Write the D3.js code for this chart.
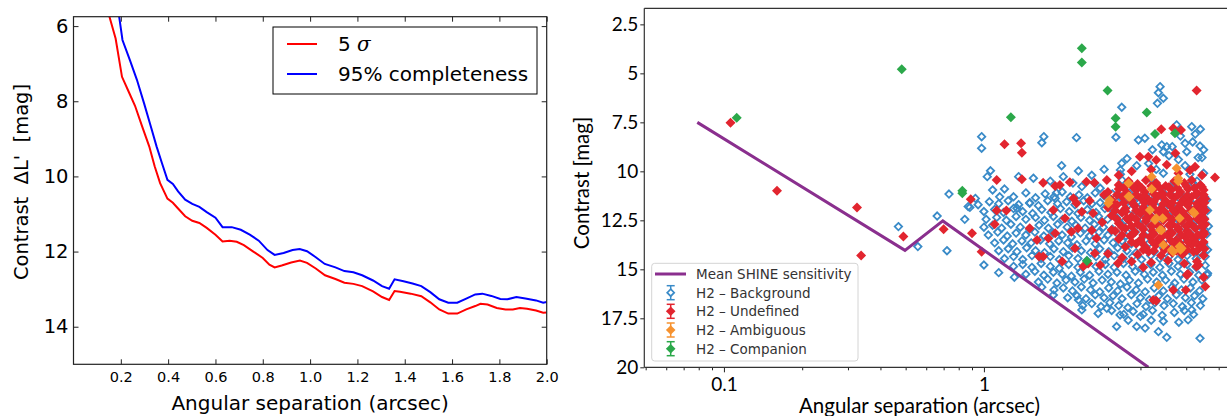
<!DOCTYPE html>
<html><head><meta charset="utf-8">
<script src="https://cdn.jsdelivr.net/npm/d3@7"></script>
<style>
html,body{margin:0;padding:0;background:#fff;}
svg{display:block;}
text{white-space:pre;}
</style>
</head><body>
<svg id="c" width="1227" height="416"></svg>
<script>
// ---------------- LEFT PANEL DATA ----------------
const sigma5 = [[0.152,5.75],[0.178,6.33],[0.205,7.35],[0.23,7.7],[0.26,8.12],[0.29,8.67],[0.32,9.2],[0.343,9.73],[0.366,10.18],[0.397,10.59],[0.42,10.7],[0.44,10.84],[0.472,11.06],[0.502,11.18],[0.532,11.24],[0.563,11.37],[0.6,11.55],[0.63,11.73],[0.66,11.71],[0.69,11.74],[0.72,11.83],[0.76,12.0],[0.8,12.17],[0.828,12.35],[0.85,12.42],[0.88,12.37],[0.92,12.29],[0.957,12.24],[0.987,12.3],[1.024,12.45],[1.063,12.63],[1.107,12.73],[1.145,12.83],[1.183,12.86],[1.22,12.92],[1.266,13.06],[1.304,13.21],[1.334,13.29],[1.357,13.05],[1.38,13.07],[1.425,13.12],[1.47,13.19],[1.508,13.35],[1.546,13.54],[1.584,13.65],[1.622,13.65],[1.66,13.54],[1.698,13.45],[1.72,13.39],[1.75,13.41],[1.789,13.5],[1.826,13.54],[1.857,13.54],[1.887,13.5],[1.917,13.52],[1.955,13.57],[1.985,13.63],[2.0,13.62]];
const compl95 = [[0.193,5.75],[0.207,6.37],[0.238,6.9],[0.268,7.43],[0.298,8.05],[0.329,8.72],[0.351,9.2],[0.374,9.65],[0.397,10.09],[0.42,10.2],[0.442,10.4],[0.472,10.62],[0.502,10.73],[0.532,10.81],[0.563,10.95],[0.6,11.1],[0.63,11.35],[0.669,11.35],[0.707,11.42],[0.745,11.55],[0.783,11.71],[0.82,11.96],[0.85,12.09],[0.888,12.04],[0.926,11.96],[0.956,11.93],[0.987,11.99],[1.024,12.15],[1.062,12.33],[1.107,12.42],[1.145,12.52],[1.183,12.55],[1.22,12.63],[1.266,12.77],[1.304,12.92],[1.334,12.99],[1.357,12.74],[1.395,12.79],[1.433,12.85],[1.47,12.92],[1.508,13.08],[1.546,13.27],[1.584,13.36],[1.622,13.36],[1.66,13.25],[1.698,13.14],[1.728,13.12],[1.766,13.18],[1.804,13.26],[1.834,13.27],[1.872,13.21],[1.91,13.25],[1.955,13.3],[1.985,13.36],[2.0,13.34]];
const leftXTicks = [0.2,0.4,0.6,0.8,1.0,1.2,1.4,1.6,1.8,2.0];
const leftYTicks = [6,8,10,12,14];
const leftLegend = ["5 σ","95% completeness"];

// ---------------- RIGHT PANEL DATA ----------------
const sensitivity = [[0.079,7.5],[0.497,14.03],[0.695,12.53],[4.29,20]];
const rightYTicks = [2.5,5,7.5,10,12.5,15,17.5,20];
const rightXTicks = [0.1,1];
const rightMinorTicks = [0.05,0.06,0.07,0.08,0.09,0.2,0.3,0.4,0.5,0.6,0.7,0.8,0.9,2,3,4,5,6,7,8,9];
const rightLegend = ["Mean SHINE sensitivity","H2 – Background","H2 – Undefined","H2 – Ambiguous","H2 – Companion"];

const background = [
[0.469,12.82],[0.557,13.84],[0.661,12.28],[0.721,14.05],[0.734,11.16],[0.844,12.45],[0.883,11.84],[0.927,11.38],[0.98,8.23],[0.98,8.82],[1.0,14.78],[1.03,10.27],[1.06,9.97],[1.08,10.95],[1.14,15.17],[1.31,15.4],[1.36,10.27],[1.67,8.54],[1.70,8.23],[1.99,9.71],[2.27,8.28],[2.31,9.98],[3.22,8.26],[3.39,6.73],[4.76,5.68],[4.69,5.99],[4.9,6.27],[4.65,6.53],[5.51,7.63],[6.3,7.72],[3.93,8.4],[4.16,8.31],[4.83,8.65],[5.05,8.74],[5.3,8.74],[5.94,8.57],[6.35,8.5],[6.78,8.71],[6.67,9.3],[6.03,9.0],[4.9,9.0],[5.15,9.2],[3.39,9.59],[3.35,9.93],[3.87,9.71],[5.94,9.71],[6.2,10.15],[6.35,10.58],[0.87,11.8],[1.34,11.88],[1.5,11.63],[1.88,11.38],[1.9,11.1],[2.02,10.27],[2.38,10.78],[2.67,10.61],[2.8,10.86],[3.35,10.15],[3.4,10.45],[1.67,15.91],[1.85,16.31],[2.31,16.56],[2.38,17.07],[2.97,16.99],[3.34,17.33],[4.0,17.4],[6.3,17.07],[7.23,15.29],
[4.4,10.4],[4.9,10.1],[5.4,10.6],[6.6,10.5],[7.0,10.1],[4.3,9.6],[4.6,9.9],[5.6,9.4],[6.9,9.3],[7.0,8.9],[6.5,8.1],[6.8,7.85],[5.7,8.2],[4.45,8.9],[3.55,9.35],[2.9,9.9],[2.6,10.2],[1.8,10.5],[1.55,10.35],[2.2,10.6],[1.2,10.9],[1.15,11.3],
[1.3,11.3],[1.45,11.1],[1.58,11.35],[1.72,11.15],[1.86,11.3],[2.0,11.05],[2.15,11.3],[2.32,11.2],[2.5,11.35],[2.68,11.1],[2.9,11.25],[3.12,11.15],[3.35,11.3],[3.62,11.1],[3.9,11.3],[4.2,11.2],[4.55,11.35],[4.9,11.1],[5.3,11.25],[5.7,11.15],[6.15,11.3],[6.6,11.2],[7.05,11.3],
[0.95,11.7],[1.05,11.55],[1.14,11.65],[1.24,11.5],[1.36,11.7],[1.5,11.6],[1.62,11.75],[1.76,11.5],[1.92,11.65],[2.08,11.55],[2.24,11.7],[2.42,11.5],[2.6,11.65],[2.8,11.6],[3.02,11.7],[3.25,11.55],[3.5,11.65],[3.78,11.5],[4.05,11.7],[4.38,11.6],[4.72,11.55],[5.1,11.7],[5.5,11.6],[5.92,11.5],[6.4,11.7],[6.9,11.6],[7.2,11.45],
[1.0,12.05],[1.1,11.95],[1.19,12.1],[1.3,11.9],[1.41,12.05],[1.54,12.15],[1.67,11.95],[1.81,12.1],[1.97,11.9],[2.13,12.05],[2.3,12.15],[2.5,11.95],[2.7,12.1],[2.92,11.9],[3.15,12.05],[3.4,12.1],[3.68,11.95],[3.96,12.1],[4.28,11.9],[4.62,12.05],[5.0,12.15],[5.4,11.95],[5.82,12.1],[6.28,11.95],[6.75,12.1],[7.25,12.0],
[1.02,12.45],[1.12,12.35],[1.22,12.5],[1.33,12.3],[1.45,12.45],[1.58,12.35],[1.71,12.5],[1.85,12.3],[2.01,12.45],[2.18,12.55],[2.36,12.35],[2.55,12.5],[2.76,12.3],[2.99,12.45],[3.23,12.35],[3.5,12.5],[3.78,12.3],[4.09,12.45],[4.42,12.35],[4.8,12.5],[5.18,12.3],[5.6,12.45],[6.06,12.35],[6.55,12.5],[7.05,12.4],
[1.0,12.85],[1.08,12.75],[1.17,12.9],[1.27,12.7],[1.38,12.85],[1.5,12.95],[1.63,12.75],[1.77,12.9],[1.92,12.7],[2.09,12.85],[2.26,12.75],[2.45,12.9],[2.66,12.7],[2.88,12.85],[3.12,12.95],[3.38,12.75],[3.66,12.9],[3.96,12.7],[4.3,12.85],[4.65,12.75],[5.05,12.9],[5.45,12.7],[5.9,12.85],[6.38,12.75],[6.9,12.9],[7.3,12.8],
[1.04,13.25],[1.13,13.1],[1.23,13.3],[1.33,13.15],[1.45,13.25],[1.57,13.1],[1.7,13.3],[1.85,13.15],[2.0,13.25],[2.17,13.35],[2.35,13.15],[2.55,13.3],[2.77,13.1],[3.0,13.25],[3.25,13.15],[3.52,13.3],[3.82,13.1],[4.14,13.25],[4.48,13.15],[4.86,13.3],[5.26,13.1],[5.7,13.25],[6.18,13.15],[6.7,13.3],[7.2,13.2],
[1.1,13.65],[1.19,13.5],[1.29,13.7],[1.4,13.55],[1.52,13.65],[1.65,13.5],[1.79,13.7],[1.94,13.55],[2.1,13.65],[2.28,13.75],[2.47,13.55],[2.68,13.7],[2.9,13.5],[3.14,13.65],[3.4,13.55],[3.69,13.7],[4.0,13.5],[4.33,13.65],[4.7,13.55],[5.08,13.7],[5.5,13.5],[5.96,13.65],[6.46,13.55],[7.0,13.7],
[1.14,14.05],[1.24,13.95],[1.34,14.1],[1.46,13.9],[1.58,14.05],[1.71,14.15],[1.86,13.95],[2.02,14.1],[2.19,13.9],[2.37,14.05],[2.57,14.15],[2.79,13.95],[3.02,14.1],[3.27,13.9],[3.55,14.05],[3.85,14.15],[4.17,13.95],[4.52,14.1],[4.9,13.9],[5.3,14.05],[5.75,14.15],[6.22,13.95],[6.75,14.1],[7.25,14.0],
[1.2,14.45],[1.3,14.35],[1.41,14.5],[1.53,14.3],[1.66,14.45],[1.8,14.35],[1.95,14.5],[2.12,14.3],[2.3,14.45],[2.49,14.55],[2.7,14.35],[2.93,14.5],[3.17,14.3],[3.44,14.45],[3.73,14.35],[4.04,14.5],[4.38,14.3],[4.75,14.45],[5.15,14.35],[5.58,14.5],[6.05,14.3],[6.55,14.45],[7.1,14.35],
[1.3,14.85],[1.41,14.75],[1.53,14.9],[1.66,14.7],[1.8,14.85],[1.95,14.95],[2.12,14.75],[2.3,14.9],[2.49,14.7],[2.7,14.85],[2.93,14.75],[3.17,14.9],[3.44,14.7],[3.73,14.85],[4.04,14.95],[4.38,14.75],[4.75,14.9],[5.15,14.7],[5.58,14.85],[6.05,14.75],[6.55,14.9],[7.1,14.8],
[1.45,15.25],[1.57,15.1],[1.7,15.3],[1.85,15.15],[2.0,15.25],[2.17,15.35],[2.35,15.15],[2.55,15.3],[2.77,15.1],[3.0,15.25],[3.25,15.15],[3.52,15.3],[3.82,15.1],[4.14,15.25],[4.48,15.15],[4.86,15.3],[5.26,15.1],[5.7,15.25],[6.18,15.15],[6.7,15.3],[7.25,15.2],
[1.62,15.65],[1.76,15.5],[1.91,15.7],[2.07,15.55],[2.24,15.65],[2.43,15.5],[2.63,15.7],[2.85,15.55],[3.09,15.65],[3.35,15.75],[3.63,15.55],[3.93,15.7],[4.26,15.5],[4.62,15.65],[5.0,15.55],[5.42,15.7],[5.88,15.5],[6.37,15.65],[6.9,15.55],
[1.86,16.05],[2.02,15.95],[2.19,16.1],[2.37,15.9],[2.57,16.05],[2.79,16.15],[3.02,15.95],[3.27,16.1],[3.55,15.9],[3.85,16.05],[4.17,16.15],[4.52,15.95],[4.9,16.1],[5.3,15.9],[5.75,16.05],[6.22,15.95],[6.75,16.1],
[2.1,16.45],[2.28,16.35],[2.47,16.5],[2.68,16.3],[2.9,16.45],[3.14,16.35],[3.4,16.5],[3.69,16.3],[4.0,16.45],[4.33,16.55],[4.7,16.35],[5.08,16.5],[5.5,16.3],[5.96,16.45],[6.46,16.35],[6.95,16.5],
[2.4,16.85],[2.6,16.75],[2.82,16.9],[3.05,16.7],[3.3,16.85],[3.58,16.95],[3.88,16.75],[4.2,16.9],[4.55,16.7],[4.93,16.85],[5.35,16.75],[5.8,16.9],[6.28,16.7],[6.8,16.85],
[2.75,17.25],[3.1,17.1],[3.45,17.3],[3.75,17.15],[4.1,17.3],[4.45,17.1],[4.85,17.35],[5.4,17.2],[5.9,17.1],[6.4,17.3],
[3.24,17.92],[3.59,17.6],[3.87,17.92],[4.17,18.0],[4.69,18.18],[5.05,18.47],[6.78,18.52],[6.1,17.58],[5.62,17.7],[4.9,17.65],[4.4,17.6]
];
const undefinedPts = [
[0.106,7.52],[0.16,10.99],[0.325,11.84],[0.337,14.3],[0.49,13.33],[0.70,12.96],[0.89,11.43],[0.90,13.16],[0.98,14.1],[1.10,12.7],[1.12,10.44],[1.12,12.0],[1.22,12.0],[1.2,8.62],[1.39,8.57],[1.40,9.05],[1.40,10.4],[1.69,10.58],[1.88,10.75],[1.96,10.7],[2.14,10.56],[2.21,11.37],[2.27,11.63],[2.48,10.53],[2.66,10.58],[2.97,10.44],[1.85,11.97],[2.38,12.06],[2.63,12.14],[2.17,13.08],[2.3,12.9],[1.77,13.41],[2.24,13.93],[2.71,13.41],[2.67,14.18],[2.41,14.86],[2.8,14.78],[3.1,12.99],[3.0,14.2],[1.69,14.35],[3.28,14.69],[4.48,16.56],[4.6,16.6],[5.35,16.05],[6.03,15.29],[6.57,14.86],[7.1,15.88],[7.0,15.4],[1.6,13.5],[1.63,14.35],[1.88,13.16],[2.52,14.7],[5.98,16.05],[6.1,15.24],[6.7,14.78],[2.05,12.4],[2.55,11.5],[2.85,12.6],[2.9,11.2],[2.6,13.0],[3.4,14.4],[3.7,14.6],[4.1,14.9],[2.0,14.6],[1.5,12.9],
[3.98,9.25],[4.29,9.25],[4.6,9.42],[5.05,9.67],[6.49,9.76],[5.45,9.08],[7.74,10.32],[4.81,7.85],[5.73,7.89],[5.35,7.8],[6.58,5.88],[3.7,10.0],[4.4,9.9],[5.6,10.1],[6.2,9.95],[6.9,10.2],[3.3,10.2],
[3.3,10.7],[3.6,10.5],[3.9,10.65],[4.2,10.45],[4.6,10.6],[5.0,10.75],[5.4,10.5],[5.9,10.6],[6.3,10.45],[6.8,10.7],
[3.0,11.05],[3.3,10.9],[3.55,11.1],[3.85,10.95],[4.15,11.05],[4.5,10.9],[4.85,11.1],[5.25,10.95],[5.7,11.05],[6.1,10.9],[6.6,11.1],[7.0,10.95],
[3.1,11.45],[3.4,11.3],[3.7,11.5],[4.0,11.35],[4.3,11.45],[4.65,11.3],[5.0,11.5],[5.4,11.35],[5.85,11.45],[6.3,11.3],[6.8,11.5],[7.1,11.4],
[3.0,11.85],[3.25,11.7],[3.5,11.9],[3.8,11.75],[4.1,11.85],[4.45,11.7],[4.8,11.9],[5.2,11.75],[5.6,11.85],[6.05,11.7],[6.5,11.9],[6.95,11.8],
[3.1,12.25],[3.4,12.1],[3.7,12.3],[4.0,12.15],[4.35,12.25],[4.7,12.1],[5.1,12.3],[5.5,12.15],[5.95,12.25],[6.4,12.1],[6.9,12.3],
[3.3,12.65],[3.6,12.5],[3.9,12.7],[4.2,12.55],[4.55,12.65],[4.9,12.5],[5.3,12.7],[5.75,12.55],[6.2,12.65],[6.7,12.5],[7.1,12.7],
[3.2,13.05],[3.5,12.9],[3.8,13.1],[4.1,12.95],[4.45,13.05],[4.8,12.9],[5.2,13.1],[5.6,12.95],[6.05,13.05],[6.5,12.9],[7.0,13.1],
[3.3,13.45],[3.65,13.3],[4.0,13.5],[4.35,13.35],[4.7,13.45],[5.1,13.3],[5.5,13.5],[5.95,13.35],[6.4,13.45],[6.9,13.3],
[3.5,13.85],[3.85,13.7],[4.2,13.9],[4.6,13.75],[5.0,13.85],[5.4,13.7],[5.85,13.9],[6.3,13.75],[6.8,13.85],
[3.9,14.25],[4.3,14.1],[4.8,14.3],[5.3,14.15],[5.8,14.25],[6.4,14.1],[7.0,14.3],
[4.4,14.65],[5.1,14.55],[5.9,14.7],[6.6,14.6],
[3.45,10.85],[3.75,10.8],[4.05,10.85],[4.4,10.75],[4.75,10.85],[5.15,10.8],[5.55,10.85],[6.0,10.75],[6.45,10.85],[6.9,10.8],
[3.25,11.2],[3.55,11.25],[3.85,11.2],[4.15,11.25],[4.5,11.15],[4.85,11.25],[5.2,11.2],[5.6,11.2],[6.05,11.25],[6.55,11.2],[7.0,11.2],
[3.15,11.65],[3.45,11.6],[3.75,11.65],[4.15,11.6],[4.5,11.55],[4.9,11.65],[5.3,11.6],[5.7,11.65],[6.15,11.6],[6.6,11.65],[7.05,11.6],
[3.2,12.0],[3.5,12.05],[3.85,12.0],[4.2,12.05],[4.55,11.95],[4.95,12.05],[5.35,12.0],[5.8,12.05],[6.25,12.0],[6.7,12.05],[7.1,12.0],
[3.25,12.45],[3.55,12.4],[3.85,12.45],[4.2,12.4],[4.55,12.45],[4.9,12.35],[5.3,12.45],[5.7,12.4],[6.15,12.45],[6.6,12.4],[7.05,12.45],
[3.4,12.85],[3.7,12.8],[4.05,12.85],[4.4,12.8],[4.75,12.85],[5.15,12.75],[5.55,12.85],[6.0,12.8],[6.45,12.85],[6.9,12.8],
[3.4,13.25],[3.75,13.2],[4.1,13.25],[4.5,13.2],[4.9,13.25],[5.3,13.15],[5.75,13.25],[6.2,13.2],[6.65,13.25],[7.05,13.2],
[3.7,13.6],[4.05,13.65],[4.45,13.6],[4.85,13.65],[5.25,13.55],[5.65,13.65],[6.1,13.6],[6.55,13.65],[7.0,13.6],
[4.1,14.0],[4.5,14.05],[4.95,14.0],[5.5,14.05],[6.05,14.0],[6.6,14.05],[7.05,13.95]
];
const ambiguous = [[3.04,11.46],[3.01,11.63],[3.6,10.61],[3.6,11.29],[4.42,10.27],[4.42,10.9],[5.51,9.84],[5.59,10.35],[5.59,10.5],[4.35,11.97],[4.55,12.48],[4.6,12.4],[4.76,12.99],[5.66,12.4],[6.38,12.06],[5.28,14.01],[5.66,13.84],[5.7,14.0],[4.9,13.76],[4.69,15.8],[4.87,12.4],[4.82,13.0],[6.45,12.14],[5.35,14.1],[5.76,13.93],[3.63,11.3]];
const companion = [[0.112,7.26],[0.483,4.79],[2.38,3.72],[2.38,4.44],[1.27,7.24],[2.99,5.88],[3.21,7.29],[3.21,7.72],[4.23,7.0],[4.55,8.09],[5.43,8.06],[0.826,10.99],[0.826,11.12],[2.49,14.57]];

// ---------------- DRAW ----------------
const svg = d3.select("#c");
const DJ = "'DejaVu Sans', sans-serif";
const LT = "Lato, 'Open Sans', sans-serif";

// LEFT PANEL
const L = {x0:73.5, x1:546.7, y0:16.7, y1:364.3};
const xL = d3.scaleLinear().domain([0,2]).range([L.x0,L.x1]);
const yL = d3.scaleLinear().domain([5.75,15]).range([L.y0,L.y1]);
const gL = svg.append("g");
svg.append("clipPath").attr("id","clipL").append("rect").attr("x",L.x0).attr("y",L.y0).attr("width",L.x1-L.x0).attr("height",L.y1-L.y0);

const lineL = d3.line().x(d=>xL(d[0])).y(d=>yL(d[1]));
gL.append("path").datum(sigma5).attr("d",lineL).attr("clip-path","url(#clipL)").attr("fill","none").attr("stroke","#ff0000").attr("stroke-width",2);
gL.append("path").datum(compl95).attr("d",lineL).attr("clip-path","url(#clipL)").attr("fill","none").attr("stroke","#0000ff").attr("stroke-width",2);

function styleAxis(g, font, size, col){
  g.select(".domain").remove();
  g.selectAll(".tick line").attr("stroke","#222").attr("stroke-width",1);
  g.selectAll(".tick text").attr("font-family",font).attr("font-size",size).attr("fill",col||"#000");
}
const axB = gL.append("g").attr("transform",`translate(0,${L.y1})`)
  .call(d3.axisBottom(xL).tickValues(leftXTicks).tickSize(-5).tickPadding(7).tickFormat(d3.format(".1f")));
styleAxis(axB, DJ, 14.5);
const axT = gL.append("g").attr("transform",`translate(0,${L.y0})`)
  .call(d3.axisTop(xL).tickValues(leftXTicks).tickSize(-5).tickFormat(""));
styleAxis(axT, DJ, 1);
const axLf = gL.append("g").attr("transform",`translate(${L.x0},0)`)
  .call(d3.axisLeft(yL).tickValues(leftYTicks).tickSize(-5).tickPadding(5));
styleAxis(axLf, DJ, 19.5);
const axRt = gL.append("g").attr("transform",`translate(${L.x1},0)`)
  .call(d3.axisRight(yL).tickValues(leftYTicks).tickSize(-5).tickFormat(""));
styleAxis(axRt, DJ, 1);
gL.append("rect").attr("x",L.x0).attr("y",L.y0).attr("width",L.x1-L.x0).attr("height",L.y1-L.y0)
  .attr("fill","none").attr("stroke","#222").attr("stroke-width",1.2);

// left legend
gL.append("rect").attr("x",273).attr("y",27).attr("width",264).attr("height",67).attr("fill","#fff").attr("stroke","#000").attr("stroke-width",1);
[["#ff0000",44],["#0000ff",74]].forEach((c,i)=>{
  gL.append("line").attr("x1",287).attr("x2",317).attr("y1",c[1]).attr("y2",c[1]).attr("stroke",c[0]).attr("stroke-width",2);
});
const lt1 = gL.append("text").attr("x",338).attr("y",44).attr("dominant-baseline","central").attr("font-family",DJ).attr("font-size",20);
lt1.append("tspan").text(leftLegend[0].split(" ")[0]+" ");
lt1.append("tspan").attr("font-style","italic").attr("font-family","'DejaVu Serif', serif").text(leftLegend[0].split(" ")[1]);
gL.append("text").attr("x",338).attr("y",74).attr("dominant-baseline","central").attr("font-family",DJ).attr("font-size",20).text(leftLegend[1]);

// left labels
gL.append("text").attr("x",(L.x0+L.x1)/2).attr("y",403).attr("text-anchor","middle").attr("dominant-baseline","central")
  .attr("font-family",DJ).attr("font-size",20).text("Angular separation (arcsec)");
gL.append("text").attr("transform","translate(21,182) rotate(-90)").attr("text-anchor","middle").attr("dominant-baseline","central")
  .attr("font-family",DJ).attr("font-size",19.5).text("Contrast  ΔL'  [mag]");

// RIGHT PANEL
const R = {x0:644.3, x1:1232, y0:8.3, y1:367.3};
const xR = d3.scaleLog().domain([0.0494,9]).range([R.x0,R.x1]);
const yR = d3.scaleLinear().domain([1.68,20]).range([R.y0,R.y1]);
const gR = svg.append("g");
svg.append("clipPath").attr("id","clipR").append("rect").attr("x",R.x0).attr("y",R.y0).attr("width",R.x1-R.x0).attr("height",R.y1-R.y0);
const plotR = gR.append("g").attr("clip-path","url(#clipR)");

const diamond = r => `M0,${-r}L${r},0L0,${r}L${-r},0Z`;
const COL = {bg:"#3a8bc8", und:"#e2252f", amb:"#f6922f", comp:"#2ba84a", purple:"#8a2f8e"};

plotR.selectAll("path.bg").data(background).join("path").attr("class","bg")
  .attr("d",diamond(3.7)).attr("transform",d=>`translate(${xR(d[0])},${yR(d[1])})`)
  .attr("fill","none").attr("stroke",COL.bg).attr("stroke-width",1.8);
plotR.selectAll("path.und").data(undefinedPts).join("path").attr("class","und")
  .attr("d",diamond(5)).attr("transform",d=>`translate(${xR(d[0])},${yR(d[1])})`).attr("fill",COL.und);
plotR.selectAll("path.amb").data(ambiguous).join("path").attr("class","amb")
  .attr("d",diamond(5)).attr("transform",d=>`translate(${xR(d[0])},${yR(d[1])})`).attr("fill",COL.amb);
plotR.selectAll("path.comp").data(companion).join("path").attr("class","comp")
  .attr("d",diamond(5)).attr("transform",d=>`translate(${xR(d[0])},${yR(d[1])})`).attr("fill",COL.comp);

plotR.append("path").datum(sensitivity).attr("d",d3.line().x(d=>xR(d[0])).y(d=>yR(d[1])))
  .attr("fill","none").attr("stroke",COL.purple).attr("stroke-width",3);

// right axes
const rB = gR.append("g").attr("transform",`translate(0,${R.y1})`)
  .call(d3.axisBottom(xR).tickValues(rightXTicks).tickSize(5).tickPadding(5).tickFormat(d=>String(d)));
styleAxis(rB, LT, 19);
const rBm = gR.append("g").attr("transform",`translate(0,${R.y1})`)
  .call(d3.axisBottom(xR).tickValues(rightMinorTicks).tickSize(3).tickFormat(""));
styleAxis(rBm, LT, 1);
const rL = gR.append("g").attr("transform",`translate(${R.x0},0)`)
  .call(d3.axisLeft(yR).tickValues(rightYTicks).tickSize(4).tickPadding(2).tickFormat(d=>String(d)));
styleAxis(rL, LT, 19);
gR.append("line").attr("x1",R.x0).attr("x2",R.x1).attr("y1",R.y0).attr("y2",R.y0).attr("stroke","#333").attr("stroke-width",1.2);
gR.append("line").attr("x1",R.x0).attr("x2",R.x1).attr("y1",R.y1).attr("y2",R.y1).attr("stroke","#333").attr("stroke-width",1.2);
gR.append("line").attr("x1",R.x0).attr("x2",R.x0).attr("y1",R.y0).attr("y2",R.y1).attr("stroke","#333").attr("stroke-width",1.2);
gR.append("line").attr("x1",R.x1).attr("x2",R.x1).attr("y1",R.y0).attr("y2",R.y1).attr("stroke","#333").attr("stroke-width",1.2);

// right legend
const lg = gR.append("g");
lg.append("rect").attr("x",651.7).attr("y",263.3).attr("width",206.3).attr("height",97.7).attr("rx",3)
  .attr("fill","#fff").attr("fill-opacity",0.85).attr("stroke","#d4d4d4").attr("stroke-width",1);
lg.append("line").attr("x1",655).attr("x2",686).attr("y1",274).attr("y2",274).attr("stroke",COL.purple).attr("stroke-width",3);
const legY = [274,292.7,311.3,330,348.7];
const legCols = [null, COL.bg, COL.und, COL.amb, COL.comp];
rightLegend.forEach((t,i)=>{
  lg.append("text").attr("x",696).attr("y",legY[i]).attr("dominant-baseline","central")
    .attr("font-family",DJ).attr("font-size",13.5).attr("fill","#333").text(t);
  if(i>0){
    const cx=670.7, cy=legY[i], c=legCols[i];
    lg.append("line").attr("x1",cx).attr("x2",cx).attr("y1",cy-7).attr("y2",cy+7).attr("stroke",c).attr("stroke-width",1.5);
    lg.append("line").attr("x1",cx-4).attr("x2",cx+4).attr("y1",cy-7).attr("y2",cy-7).attr("stroke",c).attr("stroke-width",1.5);
    lg.append("line").attr("x1",cx-4).attr("x2",cx+4).attr("y1",cy+7).attr("y2",cy+7).attr("stroke",c).attr("stroke-width",1.5);
    if(i===1){
      lg.append("path").attr("d",diamond(3.5)).attr("transform",`translate(${cx},${cy})`).attr("fill","#fff").attr("stroke",c).attr("stroke-width",1.7);
    } else {
      lg.append("path").attr("d",diamond(4.8)).attr("transform",`translate(${cx},${cy})`).attr("fill",c);
    }
  }
});

// right labels
gR.append("text").attr("x",919.5).attr("y",405).attr("text-anchor","middle").attr("dominant-baseline","central")
  .attr("font-family",LT).attr("font-size",20.5).text("Angular separation (arcsec)");
gR.append("text").attr("transform","translate(581,183) rotate(-90)").attr("text-anchor","middle").attr("dominant-baseline","central")
  .attr("font-family",LT).attr("font-size",20.5).text("Contrast [mag]");
</script>
</body></html>
